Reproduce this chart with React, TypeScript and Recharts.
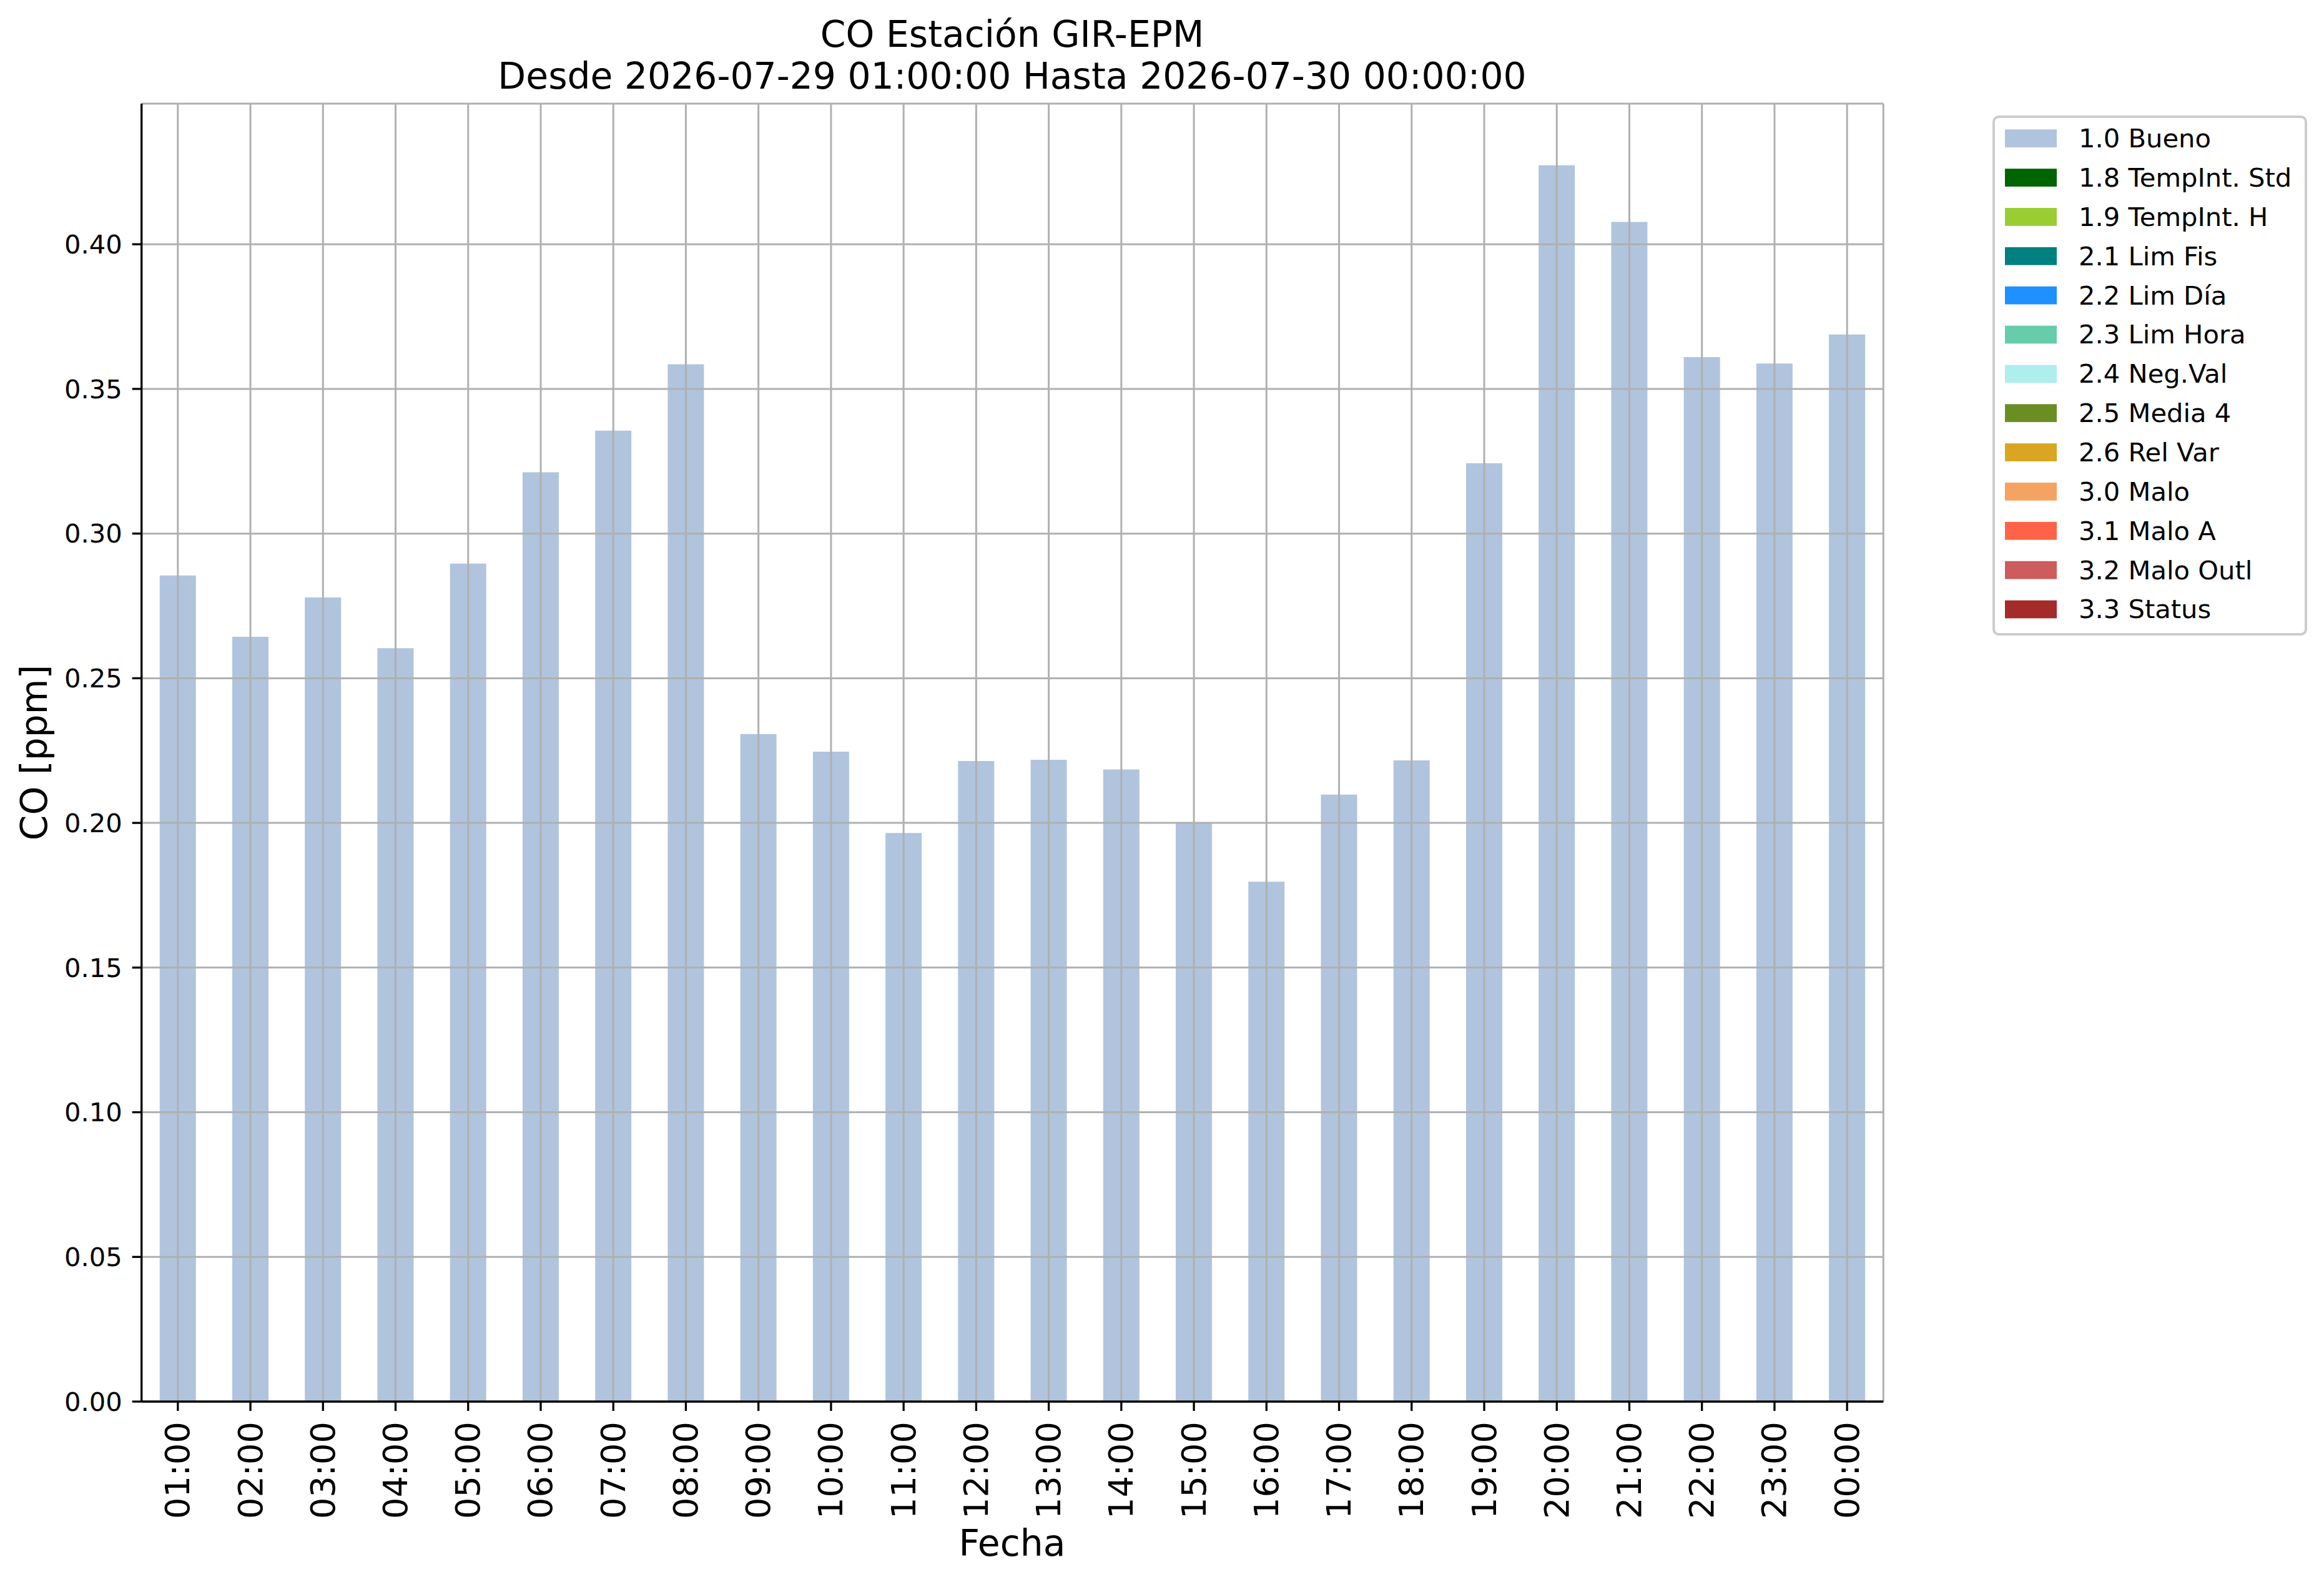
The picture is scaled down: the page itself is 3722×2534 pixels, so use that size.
import React from 'react';
import { BarChart, Bar, XAxis, YAxis, CartesianGrid } from 'recharts';

const hours = ['01:00', '02:00', '03:00', '04:00', '05:00', '06:00', '07:00', '08:00', '09:00', '10:00', '11:00', '12:00', '13:00', '14:00', '15:00', '16:00', '17:00', '18:00', '19:00', '20:00', '21:00', '22:00', '23:00', '00:00'];
const bueno = [0.2855, 0.2643, 0.2779, 0.2604, 0.2896, 0.3212, 0.3356, 0.3585, 0.2307, 0.2246, 0.1965, 0.2214, 0.2218, 0.2185, 0.1999, 0.1797, 0.2098, 0.2216, 0.3243, 0.4273, 0.4077, 0.3610, 0.3588, 0.3688];
const yTicks = [0, 0.05, 0.1, 0.15, 0.2, 0.25, 0.3, 0.35, 0.4];
const legendLabels = ['1.0 Bueno', '1.8 TempInt. Std', '1.9 TempInt. H', '2.1 Lim Fis', '2.2 Lim Día', '2.3 Lim Hora', '2.4 Neg.Val', '2.5 Media 4', '2.6 Rel Var', '3.0 Malo', '3.1 Malo A', '3.2 Malo Outl', '3.3 Status'];
const legendColors = ['#B0C4DE', '#006400', '#9ACD32', '#008080', '#1E90FF', '#66CDAA', '#AFEEEE', '#6B8E23', '#DAA520', '#F4A460', '#FF6347', '#CD5C5C', '#A52A2A'];
const titleLines = ['CO Estación GIR-EPM', 'Desde 2026-07-29 01:00:00 Hasta 2026-07-30 00:00:00'];
const xLabel = 'Fecha';
const yLabel = 'CO [ppm]';

const data = hours.map((h, i) => ({ hour: h, bueno: bueno[i] }));

const W = 3722;
const H = 2534;
const FONT = 'DejaVu Sans';
const Y_DOMAIN: [number, number] = [0, 0.4486];
const MARGIN = { top: 166, right: 705.7, bottom: 0, left: 0 };

const XTick = (props: any) => {
  const { x, y, payload } = props;
  return (
    <text
      transform={`translate(${x},${y}) rotate(-90)`}
      x={0}
      y={0}
      textAnchor="end"
      dominantBaseline="central"
      fontSize={54.17}
      fontFamily={FONT}
      fill="#000"
    >
      {payload.value}
    </text>
  );
};

const spine = { stroke: '#000', strokeWidth: 3.3 };

export default function App() {
  return (
    <div style={{ position: 'absolute', left: 0, top: 0, width: W, height: H, background: '#fff', fontFamily: FONT }}>
      {/* bars layer */}
      <div style={{ position: 'absolute', left: 0, top: 0 }}>
        <BarChart width={W} height={H} data={data} margin={MARGIN} barCategoryGap="25%">
          <XAxis dataKey="hour" height={289} tick={false} tickLine={false} axisLine={false} interval={0} />
          <YAxis width={226.7} domain={Y_DOMAIN} ticks={yTicks} allowDataOverflow tick={false} tickLine={false} axisLine={false} />
          <Bar dataKey="bueno" fill="#B0C4DE" isAnimationActive={false} />
        </BarChart>
      </div>
      {/* grid + axes layer drawn above the bars */}
      <div style={{ position: 'absolute', left: 0, top: 0 }}>
        <BarChart width={W} height={H} data={data} margin={MARGIN} barCategoryGap="25%" style={{ fontFamily: FONT }}>
          <CartesianGrid stroke="#b0b0b0" strokeWidth={3} />
          <XAxis
            dataKey="hour"
            height={289}
            tick={<XTick />}
            tickSize={15}
            tickMargin={17}
            interval={0}
            axisLine={spine}
            tickLine={spine}
          />
          <XAxis xAxisId="top" dataKey="hour" orientation="top" height={0} tick={false} tickLine={false} axisLine={spine} />
          <YAxis
            width={226.7}
            domain={Y_DOMAIN}
            ticks={yTicks}
            allowDataOverflow
            tickFormatter={(v: number) => v.toFixed(2)}
            tick={{ fill: '#000', fontSize: 41.67, fontFamily: FONT }}
            tickSize={15}
            tickMargin={16}
            axisLine={spine}
            tickLine={spine}
          />
          <YAxis yAxisId="right" orientation="right" width={0} domain={Y_DOMAIN} tick={false} tickLine={false} axisLine={spine} />
        </BarChart>
      </div>
      <svg width={W} height={H} style={{ position: 'absolute', left: 0, top: 0, pointerEvents: 'none' }}>
        <text x={1621} y={75} textAnchor="middle" fontSize={58.33} fontFamily={FONT} fill="#000">{titleLines[0]}</text>
        <text x={1621} y={141.7} textAnchor="middle" fontSize={58.33} fontFamily={FONT} fill="#000">{titleLines[1]}</text>
        <text x={1621} y={2491.7} textAnchor="middle" fontSize={58.33} fontFamily={FONT} fill="#000">{xLabel}</text>
        <text transform="translate(75,1205.5) rotate(-90)" x={0} y={0} textAnchor="middle" fontSize={58.33} fontFamily={FONT} fill="#000">{yLabel}</text>
        <rect x={3193} y={187} width={500} height={829} rx={8} ry={8} fill="#fff" fillOpacity={0.8} stroke="#cccccc" strokeWidth={4} />
        {legendLabels.map((label, i) => {
          const cy = 221.7 + i * 62.86;
          return (
            <g key={label}>
              <rect x={3211} y={cy - 14.35} width={83} height={28.7} fill={legendColors[i]} />
              <text x={3329} y={cy + 14.4} fontSize={41.67} fontFamily={FONT} fill="#000">{label}</text>
            </g>
          );
        })}
      </svg>
    </div>
  );
}
